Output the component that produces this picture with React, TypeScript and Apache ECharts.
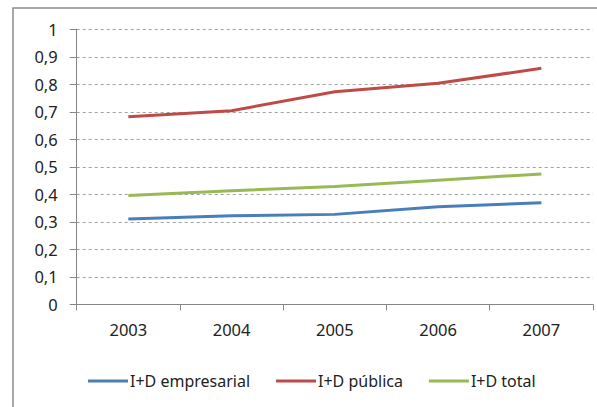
import React, { useEffect, useRef } from "react";
import * as echarts from "echarts";

const years = ["2003", "2004", "2005", "2006", "2007"];
const empresarial = [0.31, 0.322, 0.327, 0.355, 0.369];
const publica = [0.682, 0.704, 0.773, 0.804, 0.858];
const total = [0.396, 0.413, 0.428, 0.451, 0.474];
const seriesNames = ["I+D empresarial", "I+D pública", "I+D total"];
const colors = ["#4A7EBB", "#BE4B48", "#98B954"];

const FONT = "Noto Sans";

export default function App() {
  const ref = useRef<HTMLDivElement>(null);
  useEffect(() => {
    document.body.style.margin = "0";
    const chart = echarts.init(ref.current!, null, { renderer: "svg" });
    const values = [empresarial, publica, total];
    chart.setOption({
      animation: false,
      backgroundColor: "#ffffff",
      textStyle: { fontFamily: FONT },
      graphic: [
        {
          type: "rect",
          shape: { x: 13, y: 8, width: 620, height: 430 },
          style: { fill: "none", stroke: "#8c8c8c", lineWidth: 1.5 },
          silent: true,
          z: -1,
        },
      ],
      grid: { left: 76.7, right: 4, top: 29.3, bottom: 102.7, containLabel: false },
      legend: {
        left: 88,
        top: 373,
        padding: 0,
        icon: "rect",
        itemWidth: 40,
        itemHeight: 3.2,
        itemGap: 26,
        data: seriesNames,
        textStyle: { fontFamily: FONT, fontSize: 16, color: "#222", padding: [0, 0, 0, -3] },
      },
      xAxis: {
        type: "category",
        data: years,
        boundaryGap: true,
        axisLine: { lineStyle: { color: "#868686", width: 1 } },
        axisTick: { show: true, length: 6, lineStyle: { color: "#868686" } },
        axisLabel: { fontFamily: FONT, fontSize: 16.5, color: "#222", margin: 17 },
      },
      yAxis: {
        type: "value",
        min: 0,
        max: 1,
        interval: 0.1,
        axisLine: { show: true, lineStyle: { color: "#868686", width: 1 } },
        axisTick: { show: true, length: 7, lineStyle: { color: "#868686" } },
        axisLabel: {
          fontFamily: FONT,
          fontSize: 16.5,
          color: "#222",
          margin: 19,
          formatter: (v: number) => String(Number(v.toFixed(1))).replace(".", ","),
        },
        splitLine: {
          show: true,
          lineStyle: { color: "#a0a0a0", type: [3, 3], width: 1 },
        },
      },
      series: seriesNames.map((name, i) => ({
        name,
        type: "line",
        data: values[i],
        symbol: "none",
        color: colors[i],
        lineStyle: { color: colors[i], width: 3 },
      })),
    });
    return () => chart.dispose();
  }, []);
  return <div ref={ref} style={{ width: 597, height: 407 }} />;
}
